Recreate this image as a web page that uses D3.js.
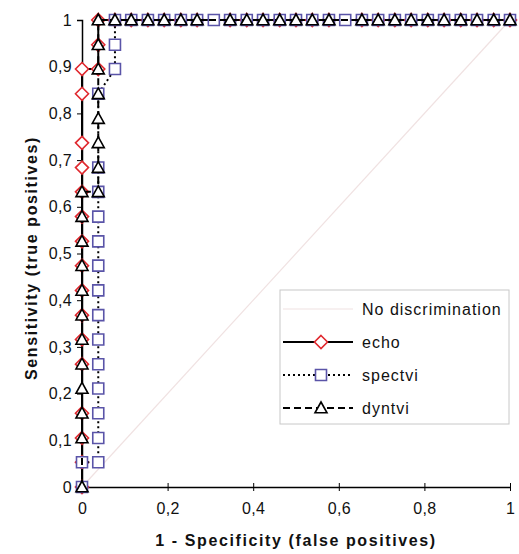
<!DOCTYPE html>
<html>
<head>
  <meta charset="utf-8">
  <title>ROC curves</title>
  <script src="https://d3js.org/d3.v7.min.js"></script>
  <style>
    body { margin: 0; background: #fff; }
    text { font-family: "Liberation Sans", Arial, sans-serif; fill: #111; }
  </style>
</head>
<body>
  <div id="chart"></div>
  <script>
    // Data
    var xTicks = [0, 0.2, 0.4, 0.6, 0.8, 1];
    var yTicks = [0, 0.1, 0.2, 0.3, 0.4, 0.5, 0.6, 0.7, 0.8, 0.9, 1];

    var diagX = [0, 1];
    var diagY = [0, 1];

    var echoX = [0, 0, 0, 0, 0, 0, 0, 0, 0, 0, 0, 0, 0, 0, 0, 0,
      0.038, 0.038, 0.038,
      0.077, 0.115, 0.154, 0.192, 0.231, 0.269, 0.346, 0.385, 0.423, 0.462, 0.5, 0.538, 0.577,
      0.654, 0.692, 0.731, 0.769, 0.808, 0.846, 0.885, 0.923, 0.962, 1];
    var echoY = [0, 0.053, 0.105, 0.158, 0.263, 0.316, 0.368, 0.421, 0.474, 0.526, 0.579, 0.632, 0.684, 0.737, 0.842, 0.895,
      0.895, 0.947, 1,
      1, 1, 1, 1, 1, 1, 1, 1, 1, 1, 1, 1, 1,
      1, 1, 1, 1, 1, 1, 1, 1, 1, 1];

    var spectX = [0, 0,
      0.038, 0.038, 0.038, 0.038, 0.038, 0.038, 0.038, 0.038, 0.038, 0.038, 0.038, 0.038, 0.038, 0.038,
      0.077, 0.077, 0.077,
      0.115, 0.154, 0.192, 0.231, 0.269, 0.308, 0.346, 0.385, 0.423, 0.462, 0.5, 0.538, 0.577, 0.615,
      0.654, 0.692, 0.731, 0.769, 0.808, 0.846, 0.885, 0.923, 0.962, 1];
    var spectY = [0, 0.053,
      0.053, 0.105, 0.158, 0.211, 0.263, 0.316, 0.368, 0.421, 0.474, 0.526, 0.579, 0.632, 0.684, 0.842,
      0.895, 0.947, 1,
      1, 1, 1, 1, 1, 1, 1, 1, 1, 1, 1, 1, 1, 1,
      1, 1, 1, 1, 1, 1, 1, 1, 1, 1];

    var dynX = [0, 0, 0, 0, 0, 0, 0, 0, 0, 0, 0, 0,
      0.038, 0.038, 0.038, 0.038, 0.038, 0.038, 0.038, 0.038,
      0.077, 0.115, 0.154, 0.192, 0.231, 0.269, 0.346, 0.385, 0.423, 0.462, 0.5, 0.538, 0.577,
      0.654, 0.692, 0.731, 0.769, 0.808, 0.846, 0.885, 0.923, 0.962, 1];
    var dynY = [0, 0.105, 0.158, 0.211, 0.263, 0.316, 0.368, 0.421, 0.474, 0.526, 0.579, 0.632,
      0.632, 0.684, 0.737, 0.789, 0.842, 0.895, 0.947, 1,
      1, 1, 1, 1, 1, 1, 1, 1, 1, 1, 1, 1, 1,
      1, 1, 1, 1, 1, 1, 1, 1, 1, 1];

    var seriesNames = ["No discrimination", "echo", "spectvi", "dyntvi"];

    var width = 519, height = 554;
    var svg = d3.select("#chart").append("svg")
      .attr("width", width)
      .attr("height", height);

    var x = d3.scaleLinear().domain([0, 1]).range([82, 510]);
    var y = d3.scaleLinear().domain([0, 1]).range([487, 20]);

    function pts(xs, ys) {
      return xs.map(function(v, i) { return [v, ys[i]]; });
    }

    // marker shapes
    function diamond(s) {
      return "M0," + (-s) + "L" + s + ",0L0," + s + "L" + (-s) + ",0Z";
    }
    function square(s) {
      return "M" + (-s) + "," + (-s) + "H" + s + "V" + s + "H" + (-s) + "Z";
    }
    function triangle(s) {
      return "M0," + (-s) + "L" + s + "," + (s * 0.8) + "L" + (-s) + "," + (s * 0.8) + "Z";
    }

    var series = [
      { name: "echo", data: pts(echoX, echoY), dash: null, path: diamond(6.5), stroke: "#e0282e" },
      { name: "spectvi", data: pts(spectX, spectY), dash: "2,3", path: square(5.5), stroke: "#5a54a8" },
      { name: "dyntvi", data: pts(dynX, dynY), dash: "7,4", path: triangle(6), stroke: "#000" }
    ];

    var fmt = function(d) { return d3.format("~g")(d).replace(".", ","); };

    // axes
    var xAxis = d3.axisBottom(x).tickValues(xTicks).tickSize(0).tickPadding(13).tickFormat(fmt);
    var yAxis = d3.axisLeft(y).tickValues(yTicks).tickSize(5).tickPadding(5).tickFormat(fmt);

    var gx = svg.append("g").attr("transform", "translate(0," + y(0) + ")").call(xAxis);
    gx.selectAll(".tick").append("line").attr("y1", -4).attr("y2", 4).attr("stroke", "#000");
    var gy = svg.append("g").attr("transform", "translate(" + x(0) + ",0)").call(yAxis);
    [gx, gy].forEach(function(g) {
      g.select(".domain").attr("stroke", "#000").attr("stroke-width", 1.5);
      g.selectAll("text")
        .style("font-size", "16px")
        .style("letter-spacing", "0.3px")
        .style("font-family", "Liberation Sans, Arial, sans-serif")
        .attr("fill", "#111");
    });
    gx.selectAll("text").attr("dy", "0.9em");

    // no discrimination line
    var line = d3.line().x(function(d) { return x(d[0]); }).y(function(d) { return y(d[1]); });
    svg.append("path")
      .datum(pts(diagX, diagY))
      .attr("d", line)
      .attr("fill", "none")
      .attr("stroke", "#f0e2e2")
      .attr("stroke-width", 1.2);

    series.forEach(function(s) {
      svg.append("path")
        .datum(s.data)
        .attr("d", line)
        .attr("fill", "none")
        .attr("stroke", "#000")
        .attr("stroke-width", 2)
        .attr("stroke-dasharray", s.dash);
      svg.append("g").selectAll("path")
        .data(s.data)
        .enter().append("path")
        .attr("transform", function(d) { return "translate(" + x(d[0]) + "," + y(d[1]) + ")"; })
        .attr("d", s.path)
        .attr("fill", "#fff")
        .attr("stroke", s.stroke)
        .attr("stroke-width", 1.6);
    });

    // axis titles
    svg.append("text")
      .attr("x", 296).attr("y", 546)
      .attr("text-anchor", "middle")
      .style("font-size", "16px").style("font-weight", "bold").style("letter-spacing", "1.6px")
      .text("1 - Specificity (false positives)");
    svg.append("text")
      .attr("transform", "translate(37,258) rotate(-90)")
      .attr("text-anchor", "middle")
      .style("font-size", "16px").style("font-weight", "bold").style("letter-spacing", "1.6px")
      .text("Sensitivity (true positives)");

    // legend
    var lg = svg.append("g");
    lg.append("rect")
      .attr("x", 280).attr("y", 290).attr("width", 229).attr("height", 134)
      .attr("fill", "#fff").attr("stroke", "#c8c8c8").attr("stroke-width", 1);
    var rowY = [309, 342, 375, 408];
    seriesNames.forEach(function(name, i) {
      var ly = rowY[i];
      var sample = lg.append("line")
        .attr("x1", 283).attr("x2", 353).attr("y1", ly).attr("y2", ly)
        .attr("stroke", i === 0 ? "#f0e2e2" : "#000")
        .attr("stroke-width", i === 0 ? 1.2 : 2);
      if (i > 0) {
        var s = series[i - 1];
        sample.attr("stroke-dasharray", s.dash);
        lg.append("path")
          .attr("transform", "translate(321," + ly + ")")
          .attr("d", s.path)
          .attr("fill", "#fff").attr("stroke", s.stroke).attr("stroke-width", 1.6);
      }
      lg.append("text")
        .attr("x", 362).attr("y", ly + 6)
        .style("font-size", "16px").style("letter-spacing", "1px")
        .text(name);
    });
  </script>
</body>
</html>
